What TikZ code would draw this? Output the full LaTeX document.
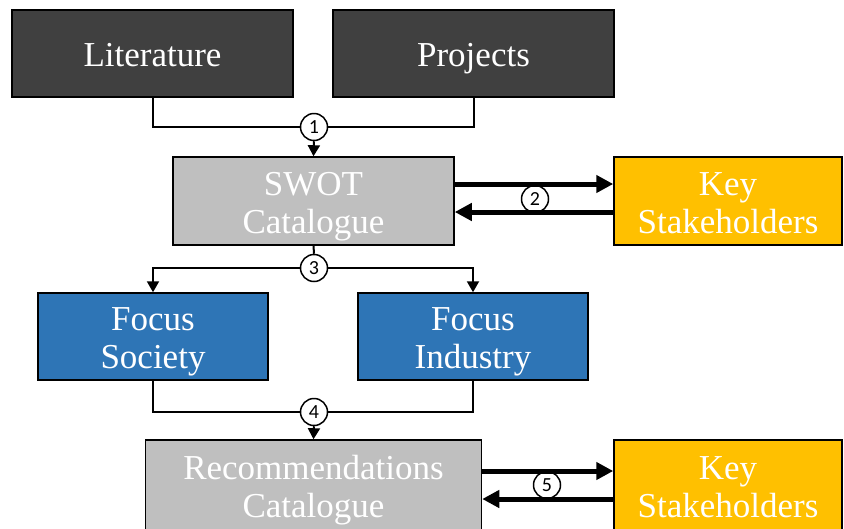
\documentclass[tikz,border=0pt]{standalone}
\usepackage{fontspec}
\setmainfont{Liberation Serif}
\newfontfamily\numfont{Carlito}
\usetikzlibrary{arrows.meta,calc}
\definecolor{darkbox}{HTML}{404040}
\definecolor{greybox}{HTML}{BFBFBF}
\definecolor{bluebox}{HTML}{2E75B6}
\definecolor{goldbox}{HTML}{FFC000}
\tikzset{
  blk/.style={draw=black, line width=1.5pt, inner sep=0pt},
  darkblk/.style={blk, fill=darkbox},
  greyblk/.style={blk, fill=greybox},
  blueblk/.style={blk, fill=bluebox},
  goldblk/.style={blk, fill=goldbox},
  txt/.style={anchor=base, inner sep=0pt, text=white, font=\fontsize{35}{38}\selectfont},
  numc/.style={circle, draw=black, fill=white, line width=1.5pt, minimum size=27pt,
    inner sep=0pt, font=\numfont\fontsize{20}{20}\selectfont},
  conn/.style={draw=black, line width=2pt},
  carrow/.style={conn, -{Triangle[length=11pt,width=12pt]}},
  bigarrow/.style={draw=black, line width=5pt, -{Triangle[length=17pt,width=17pt]}}
}
\begin{document}
\begin{tikzpicture}[x=1pt,y=-1pt]
\useasboundingbox (0,0) rectangle (844,528);
\clip (0,0) rectangle (844,528);
\fill[white] (0,0) rectangle (844,528);
% boxes
\node[darkblk, minimum width=281pt, minimum height=87pt] (lit) at (152.5,53.5) {};
\node[darkblk, minimum width=281pt, minimum height=87pt] (proj) at (473.5,53.5) {};
\node[greyblk, minimum width=281pt, minimum height=88pt] (swot) at (313.5,201) {};
\node[goldblk, minimum width=228pt, minimum height=88pt] (key1) at (728,201) {};
\node[blueblk, minimum width=230pt, minimum height=87pt] (fs) at (153,336.5) {};
\node[blueblk, minimum width=230pt, minimum height=87pt] (fi) at (473,336.5) {};
\node[greyblk, minimum width=336pt, minimum height=92pt] (rec) at (313.5,486) {};
\node[goldblk, minimum width=228pt, minimum height=92pt] (key2) at (728,486) {};
% texts
\node[txt] (litT) at ($(lit.center)+(0,12.5)$) {Literature};
\node[txt] (projT) at ($(proj.center)+(0,12.5)$) {Projects};
\node[txt] (swotA) at ($(swot.center)+(0,-6)$) {SWOT};
\node[txt] (swotB) at ($(swot.center)+(0,32)$) {Catalogue};
\node[txt] (key1A) at ($(key1.center)+(0,-6)$) {Key};
\node[txt] (key1B) at ($(key1.center)+(0,32)$) {Stakeholders};
\node[txt] (fsA) at ($(fs.center)+(0,-6)$) {Focus};
\node[txt] (fsB) at ($(fs.center)+(0,32)$) {Society};
\node[txt] (fiA) at ($(fi.center)+(0,-6)$) {Focus};
\node[txt] (fiB) at ($(fi.center)+(0,32)$) {Industry};
\node[txt] (recA) at ($(rec.center)+(0,-7)$) {Recommendations};
\node[txt] (recB) at ($(rec.center)+(0,31)$) {Catalogue};
\node[txt] (key2A) at ($(key2.center)+(0,-7)$) {Key};
\node[txt] (key2B) at ($(key2.center)+(0,31)$) {Stakeholders};
% circles
\node[numc] (c1) at (314,127) {1};
\node[numc] (c2) at (535,199) {2};
\node[numc] (c3) at (314,268) {3};
\node[numc] (c4) at (314,412) {4};
\node[numc] (c5) at (547,485) {5};
% step 1
\draw[conn] (lit.south) |- (c1.west);
\draw[conn] (proj.south) |- (c1.east);
\draw[carrow] (c1.south) -- (swot.north);
% step 2
\draw[bigarrow] ([yshift=17pt]swot.east) -- ([yshift=17pt]key1.west);
\draw[bigarrow] ([yshift=-11pt]key1.west) -- ([yshift=-11pt]swot.east);
% step 3
\draw[conn] (swot.south) -- (c3.north);
\draw[carrow] (c3.west) -| (fs.north);
\draw[carrow] (c3.east) -| (fi.north);
% step 4
\draw[conn] (fs.south) |- (c4.west);
\draw[conn] (fi.south) |- (c4.east);
\draw[carrow] (c4.south) -- (rec.north);
% step 5
\draw[bigarrow] ([yshift=15pt]rec.east) -- ([yshift=15pt]key2.west);
\draw[bigarrow] ([yshift=-13pt]key2.west) -- ([yshift=-13pt]rec.east);
\end{tikzpicture}
\end{document}
